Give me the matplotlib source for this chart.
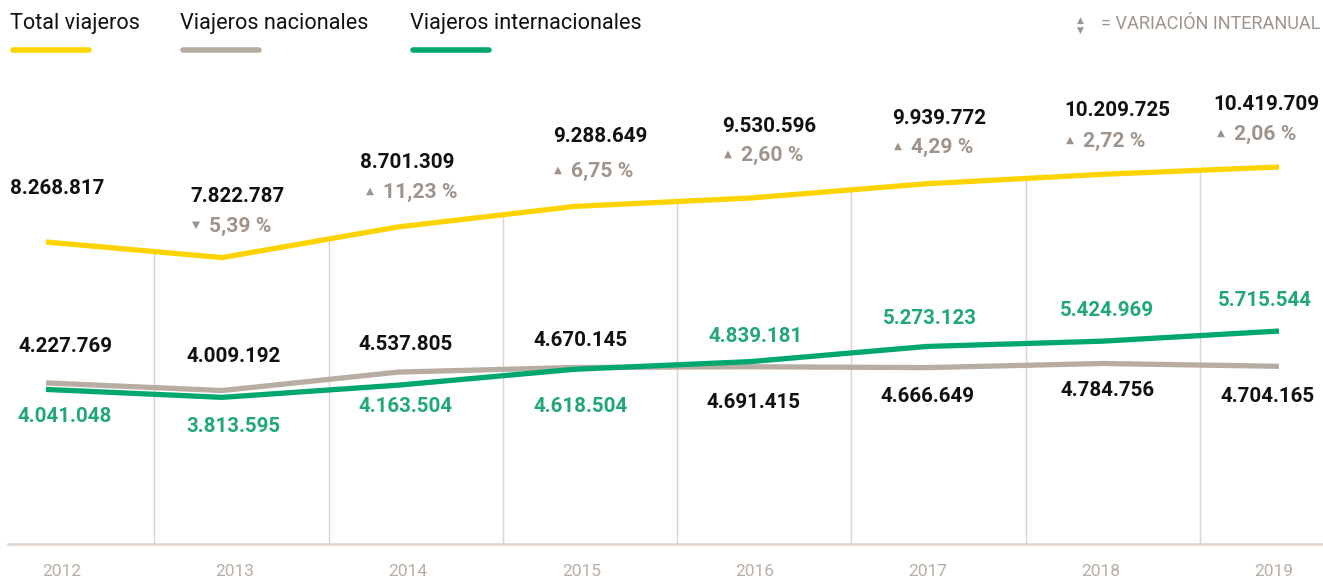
import matplotlib
matplotlib.use("Agg")
import matplotlib.pyplot as plt
import numpy as np

# ---- data ----
years = ["2012", "2013", "2014", "2015", "2016", "2017", "2018", "2019"]
total = [8268817, 7822787, 8701309, 9288649, 9530596, 9939772, 10209725, 10419709]
nacional = [4227769, 4009192, 4537805, 4670145, 4691415, 4666649, 4784756, 4704165]
internacional = [4041048, 3813595, 4163504, 4618504, 4839181, 5273123, 5424969, 5715544]
variacion = [None, -5.39, 11.23, 6.75, 2.60, 4.29, 2.72, 2.06]

series_names = ["Total viajeros", "Viajeros nacionales", "Viajeros internacionales"]

# ---- style ----
W, H = 1323, 579
YELLOW = "#FDD400"
GREY = "#B8ADA3"
GREEN = "#00A870"
GREEN_TXT = "#22A878"
BLACK = "#111111"
PCT = "#9E948B"
GRID = "#DDD3C8"
YEAR = "#B9AEA3"
FONT = ["Roboto", "DejaVu Sans"]

plt.rcParams["font.family"] = FONT

fig = plt.figure(figsize=(W / 100, H / 100), dpi=100)
ax = fig.add_axes([0, 0, 1, 1])
ax.set_axis_off()

# pixel -> data mapping (x index 0 at px 46, step 176.14 px)
x0_px, step_px = 46.0, 176.14
ax.set_xlim(-x0_px / step_px, (W - x0_px) / step_px)
ax.set_ylim(-1395651, 15208880)

x = np.arange(len(years))


def px_to_x(px):
    return (px - x0_px) / step_px


def ypx_to_val(py):
    lo, hi = ax.get_ylim()
    return hi - py / H * (hi - lo)


# vertical gridlines up to the total line
base_val = ypx_to_val(544)
for gpx in [154, 329, 503, 677, 851, 1026, 1200]:
    gx = px_to_x(gpx)
    top = np.interp(gx, x, total)
    ax.plot([gx, gx], [base_val, top], color=GRID, lw=1.0, zorder=1)

# baseline
ax.plot([px_to_x(8), px_to_x(W)], [base_val, base_val], color=GRID, lw=1.8, zorder=1)

# lines
ax.plot(x, nacional, color=GREY, lw=3.8, solid_capstyle="butt", solid_joinstyle="round", zorder=3)
ax.plot(x, internacional, color=GREEN, lw=3.8, solid_capstyle="butt", solid_joinstyle="round", zorder=4)
ax.plot(x, total, color=YELLOW, lw=3.8, solid_capstyle="butt", solid_joinstyle="round", zorder=5)


def fmt(v):
    return f"{v:,}".replace(",", ".")


def ftext(px, py, s, **kw):
    fig.text(px / W, 1 - py / H, s, **kw)


# label layout (left x px, centre y px)
total_pos = [(10, 188), (190, 197), (360, 163), (553, 137), (722, 126), (892, 118), (1064, 111), (1213, 104)]
pct_pos = [None, (190, 226), (364, 192), (552, 171), (722, 155), (892, 147), (1064, 141), (1215, 134)]
nac_pos = [(18, 347), (186, 357), (358, 344), (533, 340), (706, 402), (880, 396), (1060, 390), (1220, 397)]
int_pos = [(17, 417), (186, 426), (358, 407), (533, 407), (708, 337), (883, 318), (1060, 311), (1218, 300)]

LBL = 14.8
for i in range(len(years)):
    px, py = total_pos[i]
    ftext(px, py, fmt(total[i]), ha="left", va="center", fontsize=LBL, fontweight="bold", color=BLACK)
    px, py = nac_pos[i]
    ftext(px, py, fmt(nacional[i]), ha="left", va="center", fontsize=LBL, fontweight="bold", color=BLACK)
    px, py = int_pos[i]
    ftext(px, py, fmt(internacional[i]), ha="left", va="center", fontsize=LBL, fontweight="bold", color=GREEN_TXT)
    if variacion[i] is not None:
        px, py = pct_pos[i]
        tri = "▲" if variacion[i] >= 0 else "▼"
        ftext(px + 2, py - 1, tri, ha="left", va="center", fontsize=7.5, color=PCT, family="DejaVu Sans")
        s = f"{abs(variacion[i]):.2f}".replace(".", ",") + " %"
        ftext(px + 19, py, s, ha="left", va="center", fontsize=15.2, fontweight="bold", color=PCT)

# year labels
for i, ypx in enumerate([62, 235, 408, 582, 755, 928, 1101, 1274]):
    ftext(ypx, 571, years[i], ha="center", va="center", fontsize=12.5, color=YEAR)

# legend
leg_x = [10, 180, 410]
leg_c = [YELLOW, GREY, GREEN]
for lx, name, c in zip(leg_x, series_names, leg_c):
    ftext(lx, 24, name, ha="left", va="center", fontsize=15.6, color=BLACK)
    fig.add_artist(plt.Line2D([(lx + 3) / W, (lx + 79) / W], [1 - 50 / H, 1 - 50 / H],
                              color=c, lw=4, solid_capstyle="round"))

# variation note
ftext(1080, 20, "▲", ha="center", va="center", fontsize=6.5, color=PCT, family="DejaVu Sans")
ftext(1080, 30, "▼", ha="center", va="center", fontsize=6.5, color=PCT, family="DejaVu Sans")
ftext(1320, 24, "= VARIACIÓN INTERANUAL", ha="right", va="center", fontsize=13, color=PCT)

fig.savefig("out.png", dpi=100)
